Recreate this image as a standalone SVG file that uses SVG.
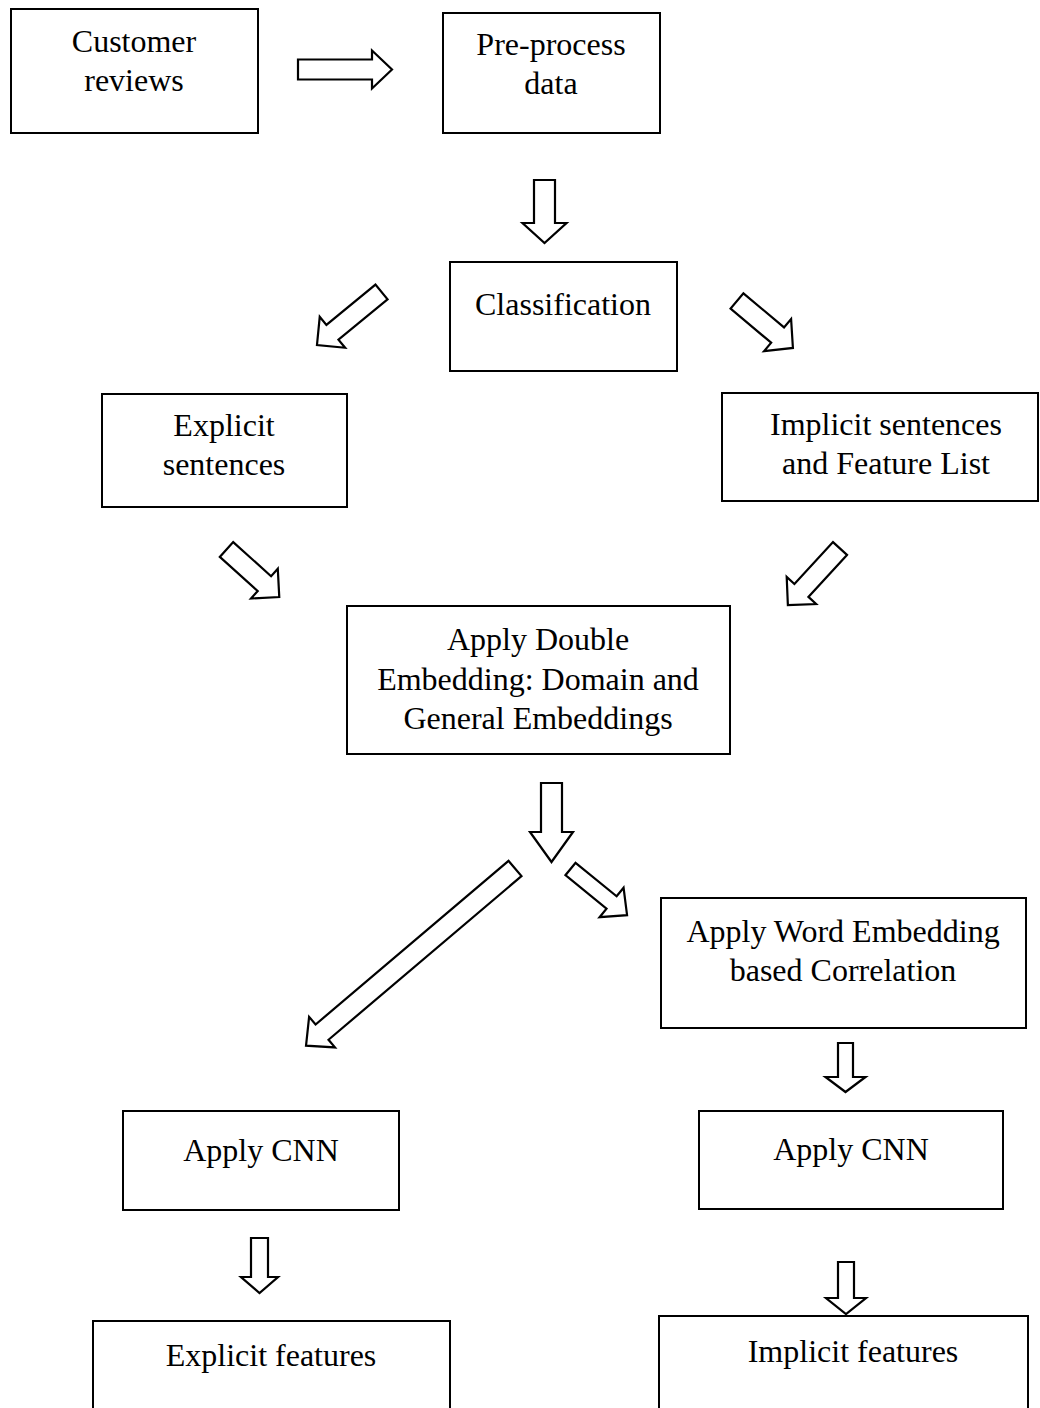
<svg xmlns="http://www.w3.org/2000/svg" width="1040" height="1408" viewBox="0 0 1040 1408">
  <style>
    .box { fill: #ffffff; stroke: #000000; stroke-width: 2; }
    .arrow { fill: #ffffff; stroke: #000000; stroke-width: 2.2; stroke-linejoin: miter; }
    text { font-family: "Liberation Serif", "Times New Roman", serif; font-size: 32px; fill: #000000; text-anchor: middle; }
  </style>
  <rect width="1040" height="1408" fill="#ffffff"/>

  <!-- block arrows between the steps -->
  <g id="connectors">
    <path class="arrow" transform="translate(298,69.5)" d="M0,-10 L74,-10 L74,-19 L94,0 L74,19 L74,10 L0,10 Z"/>
    <path class="arrow" transform="translate(544.5,180) rotate(90)" d="M0,-10.5 L43,-10.5 L43,-22 L63,0 L43,22 L43,10.5 L0,10.5 Z"/>
    <path class="arrow" transform="translate(381.5,292) rotate(140.6)" d="M0,-9.5 L63.5,-9.5 L63.5,-20 L83.5,0 L63.5,20 L63.5,9.5 L0,9.5 Z"/>
    <path class="arrow" transform="translate(737,301) rotate(40)" d="M0,-10 L53,-10 L53,-21 L73,0 L53,21 L53,10 L0,10 Z"/>
    <path class="arrow" transform="translate(226.5,549.5) rotate(42)" d="M0,-10 L51,-10 L51,-20 L71,0 L51,20 L51,10 L0,10 Z"/>
    <path class="arrow" transform="translate(840,548.5) rotate(132.6)" d="M0,-9.5 L57,-9.5 L57,-20 L77,0 L57,20 L57,9.5 L0,9.5 Z"/>
    <path class="arrow" transform="translate(551.5,783) rotate(90)" d="M0,-10.5 L49,-10.5 L49,-21.5 L79,0 L49,21.5 L49,10.5 L0,10.5 Z"/>
    <path class="arrow" transform="translate(515,868.5) rotate(139.7)" d="M0,-10 L253,-10 L253,-20 L274,0 L253,20 L253,10 L0,10 Z"/>
    <path class="arrow" transform="translate(570.5,869) rotate(39.2)" d="M0,-8 L53,-8 L53,-19 L73,0 L53,19 L53,8 L0,8 Z"/>
    <path class="arrow" transform="translate(845.5,1043) rotate(90)" d="M0,-7.5 L34,-7.5 L34,-20 L49,0 L34,20 L34,7.5 L0,7.5 Z"/>
    <path class="arrow" transform="translate(259.5,1238) rotate(90)" d="M0,-8.5 L39,-8.5 L39,-18.5 L55,0 L39,18.5 L39,8.5 L0,8.5 Z"/>
    <path class="arrow" transform="translate(846,1262) rotate(90)" d="M0,-8 L36,-8 L36,-20 L52,0 L36,20 L36,8 L0,8 Z"/>
  </g>

  <g id="customer-reviews">
    <rect class="box" x="11" y="9" width="247" height="124"/>
    <text x="134" y="52">Customer</text>
    <text x="134" y="91">reviews</text>
  </g>

  <g id="pre-process">
    <rect class="box" x="443" y="13" width="217" height="120"/>
    <text x="551" y="55">Pre-process</text>
    <text x="551" y="94">data</text>
  </g>

  <g id="classification">
    <rect class="box" x="450" y="262" width="227" height="109"/>
    <text x="563" y="315">Classification</text>
  </g>

  <g id="explicit-sentences">
    <rect class="box" x="102" y="394" width="245" height="113"/>
    <text x="224" y="436">Explicit</text>
    <text x="224" y="475">sentences</text>
  </g>

  <g id="implicit-sentences">
    <rect class="box" x="722" y="393" width="316" height="108"/>
    <text x="886" y="435">Implicit sentences</text>
    <text x="886" y="474">and Feature List</text>
  </g>

  <g id="double-embedding">
    <rect class="box" x="347" y="606" width="383" height="148"/>
    <text x="538" y="650">Apply Double</text>
    <text x="538" y="690">Embedding: Domain and</text>
    <text x="538" y="729">General Embeddings</text>
  </g>

  <g id="word-embedding">
    <rect class="box" x="661" y="898" width="365" height="130"/>
    <text x="843" y="942">Apply Word Embedding</text>
    <text x="843" y="981">based Correlation</text>
  </g>

  <g id="cnn-left">
    <rect class="box" x="123" y="1111" width="276" height="99"/>
    <text x="261" y="1161">Apply CNN</text>
  </g>

  <g id="cnn-right">
    <rect class="box" x="699" y="1111" width="304" height="98"/>
    <text x="851" y="1160">Apply CNN</text>
  </g>

  <g id="explicit-features">
    <rect class="box" x="93" y="1321" width="357" height="100"/>
    <text x="271" y="1366">Explicit features</text>
  </g>

  <g id="implicit-features">
    <rect class="box" x="659" y="1316" width="369" height="105"/>
    <text x="853" y="1362">Implicit features</text>
  </g>
</svg>
